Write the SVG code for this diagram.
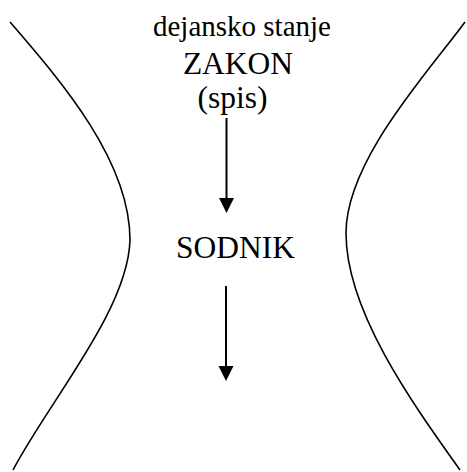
<svg xmlns="http://www.w3.org/2000/svg" width="467" height="472" viewBox="0 0 467 472">
<style>
text{font-family:"Liberation Serif","Times New Roman",serif;fill:#000}
.c{fill:none;stroke:#000;stroke-width:1.6}
.a{stroke:#000;stroke-width:2}
</style>
<rect width="467" height="472" fill="#fff"/>
<g id="curves">
<path class="c" d="M10,22 C60,80 130,160 130,240 C128,310 50,400 13,470"/>
<path class="c" d="M465,22 C430,70 346,160 346,233 C346,310 410,400 460,470"/>
</g>
<g id="n-dejansko"><text x="153" y="36" font-size="29">dejansko stanje</text></g>
<g id="n-zakon"><text x="238" y="74" font-size="31.5" text-anchor="middle">ZAKON</text></g>
<g id="n-spis"><text x="232.5" y="108" font-size="31.5" text-anchor="middle">(spis)</text></g>
<g id="n-sodnik"><text x="235.5" y="257.5" font-size="31.5" text-anchor="middle">SODNIK</text></g>
<g id="connectors">
<line class="a" x1="226.5" y1="118" x2="226.5" y2="198"/>
<path d="M219,198 L234,198 L226.5,213 Z"/>
<line class="a" x1="226" y1="286" x2="226" y2="366"/>
<path d="M218.5,366 L233.5,366 L226,381 Z"/>
</g>
</svg>
